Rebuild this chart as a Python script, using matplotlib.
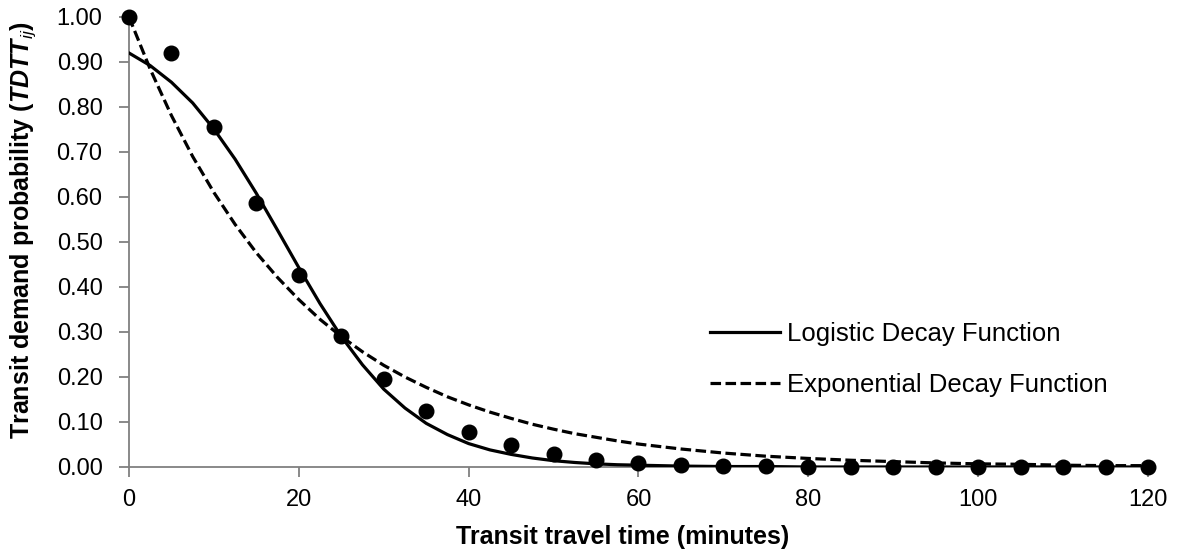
import matplotlib.pyplot as plt

plt.rcParams['font.family'] = ['Liberation Sans', 'DejaVu Sans']
plt.rcParams['mathtext.fontset'] = 'custom'
plt.rcParams['mathtext.rm'] = 'Liberation Sans'
plt.rcParams['mathtext.it'] = 'Liberation Sans:italic'
plt.rcParams['mathtext.bf'] = 'Liberation Sans:bold'
plt.rcParams['mathtext.bfit'] = 'Liberation Sans:bold:italic'

# observed probabilities, every 5 minutes
obs_t = [0, 5, 10, 15, 20, 25, 30, 35, 40, 45, 50, 55, 60, 65, 70, 75, 80,
         85, 90, 95, 100, 105, 110, 115, 120]
obs_p = [1.000, 0.921, 0.755, 0.586, 0.426, 0.291, 0.195, 0.125, 0.078, 0.048,
         0.028, 0.016, 0.009, 0.005, 0.003, 0.002, 0.001, 0.001, 0.001, 0.001,
         0.001, 0.000, 0.000, 0.000, 0.000]

# fitted curves
curve_t = [0, 2.5, 5, 7.5, 10, 12.5, 15, 17.5, 20, 22.5, 25, 27.5, 30, 32.5, 35,
           37.5, 40, 42.5, 45, 47.5, 50, 52.5, 55, 57.5, 60, 65, 70, 75, 80, 85,
           90, 95, 100, 105, 110, 115, 120]
logistic = [0.920, 0.892, 0.855, 0.809, 0.751, 0.684, 0.608, 0.526, 0.443, 0.363,
            0.290, 0.227, 0.173, 0.131, 0.097, 0.072, 0.052, 0.038, 0.028, 0.020,
            0.014, 0.010, 0.007, 0.005, 0.004, 0.002, 0.001, 0.001, 0.000, 0.000,
            0.000, 0.000, 0.000, 0.000, 0.000, 0.000, 0.000]
exponential = [1.000, 0.884, 0.781, 0.690, 0.610, 0.539, 0.476, 0.421, 0.372, 0.328,
               0.290, 0.256, 0.226, 0.200, 0.177, 0.156, 0.138, 0.122, 0.108, 0.095,
               0.084, 0.074, 0.066, 0.058, 0.051, 0.040, 0.031, 0.024, 0.019, 0.015,
               0.012, 0.009, 0.007, 0.006, 0.004, 0.003, 0.003]

x_ticks = [0, 20, 40, 60, 80, 100, 120]
y_ticks = [0.0, 0.1, 0.2, 0.3, 0.4, 0.5, 0.6, 0.7, 0.8, 0.9, 1.0]

fig = plt.figure(figsize=(11.79, 5.57), dpi=100)
ax = fig.add_axes([0.1094, 0.1616, 0.8643, 0.8079])

ax.plot(curve_t, logistic, color='black', lw=2.3, label='Logistic Decay Function', zorder=3)
ax.plot(curve_t, exponential, color='black', lw=2.3, ls=(0, (3.3, 1.4)),
        label='Exponential Decay Function', zorder=3)
ax.plot(obs_t, obs_p, 'o', color='black', ms=10.5, zorder=4, clip_on=False)

ax.set_xlim(0, 120)
ax.set_ylim(0, 1.0)
ax.set_xticks(x_ticks)
ax.set_yticks(y_ticks)
ax.set_yticklabels(['%.2f' % v for v in y_ticks])

for s in ['top', 'right']:
    ax.spines[s].set_visible(False)
for s in ['left', 'bottom']:
    ax.spines[s].set_color('#808080')
    ax.spines[s].set_linewidth(1.3)
ax.tick_params(axis='both', direction='out', length=7, width=1.3, color='#808080',
               labelsize=17, labelcolor='black')
ax.tick_params(axis='x', pad=9)
ax.tick_params(axis='y', pad=12)

ax.set_xlabel('Transit travel time (minutes)', fontsize=18, fontweight='bold')
ax.set_ylabel(r'Transit demand probability ($\mathbfit{TDTT}_{\mathit{ij}}$)',
              fontsize=18, fontweight='bold')
ax.xaxis.label.set_va('center')
ax.yaxis.label.set_va('center')
ax.xaxis.set_label_coords(0.484, -0.156)
ax.yaxis.set_label_coords(-0.104, 0.527)

ax.legend(loc='upper left', bbox_to_anchor=(0.570, 0.322), frameon=False, fontsize=18.5,
          borderpad=0, borderaxespad=0, handlelength=2.72, handletextpad=0.27,
          labelspacing=1.05)

fig.savefig('out.png', dpi=100)
